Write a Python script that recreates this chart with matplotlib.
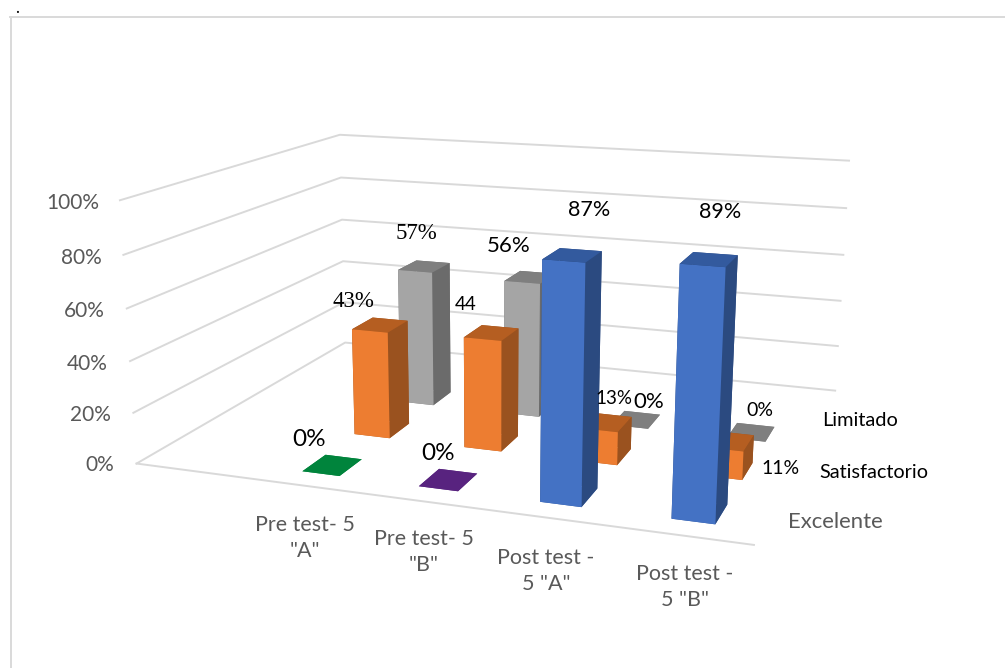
import numpy as np
import matplotlib
matplotlib.use("Agg")
import matplotlib.pyplot as plt
from matplotlib.lines import Line2D
from mpl_toolkits.mplot3d import Axes3D

W, H = 1005, 668

categories = ['Pre test- 5\n"A"', 'Pre test- 5\n"B"', 'Post test -\n5 "A"', 'Post test -\n5 "B"']
series = ["Excelente", "Satisfactorio", "Limitado"]
excelente = [0, 0, 87, 89]
satisfactorio = [43, 44, 13, 11]
limitado = [57, 56, 0, 0]
ticks = [0, 20, 40, 60, 80, 100]

front_colors = ["#4472C4", "#ED7D31", "#A5A5A5"]
top_colors = ["#335A9E", "#B55E21", "#7F7F7F"]
side_colors = ["#2B4A80", "#9A521F", "#6B6B6B"]
flat_colors = {(0, 0): "#00843C", (1, 0): "#58237F"}

BAR_W = 0.26
BAR_D = 0.32
# bars do not fill the floor of the box evenly in the original
cat_pos = [1.20, 2.00, 2.79, 3.60]
depth_pos = [0.38, 1.13, 1.88]


def fit_camera():
    # where the corners of the chart box sit in the picture, (x, depth, z) -> pixel
    left_front = [(137, 463), (133, 413), (130, 361), (127, 309), (123, 255), (120, 200)]
    left_back = [(345, 342), (344, 303), (343, 262), (342, 219), (341, 177), (340, 135)]
    right_back = [(835, 391), (838, 346), (841, 300), (843, 255), (846, 208), (849, 161)]
    rows = []
    for (x, y), pts in [((0, 0), left_front), ((0, 3), left_back), ((4, 3), right_back)]:
        for z, (u, v) in zip(ticks, pts):
            rows.append([x, y, z, 1, 0, 0, 0, 0, -u * x, -u * y, -u * z, -u])
            rows.append([0, 0, 0, 0, x, y, z, 1, -v * x, -v * y, -v * z, -v])
    x, y, z, u, v = 4, 0, 0, 754, 545
    rows.append([x, y, z, 1, 0, 0, 0, 0, -u * x, -u * y, -u * z, -u])
    rows.append([0, 0, 0, 0, x, y, z, 1, -v * x, -v * y, -v * z, -v])
    p = np.linalg.svd(np.array(rows, float))[2][-1].reshape(3, 4)
    if p[2, 3] < 0:
        p = -p
    return p / p[2, 3]


def px(x, y):
    return x / W, 1 - y / H


fig = plt.figure(figsize=(W / 100, H / 100), dpi=100)
# mplot3d forces a square box, so use one as wide as the figure
ax = fig.add_axes([0, (H - W) / 2 / H, 1, W / H], projection="3d")
ax.set_axis_off()
ax.computed_zorder = False
ax.apply_aspect()

cam = fit_camera()
to_data = ax.transData.inverted().get_matrix()
flip = np.array([[1, 0, 0], [0, -1, H], [0, 0, 1]], float)
m2 = to_data @ flip @ cam
M = np.array([m2[0], m2[1], [0, 0, 0, -1], m2[2]])
ax.get_proj = lambda: M

ax.set_xlim(0, 4)
ax.set_ylim(0, 3)
ax.set_zlim(0, 100)

grid = "#D9D9D9"
for t in ticks:
    ax.plot([0, 0, 4], [0, 3, 3], [t, t, t], color=grid, lw=1.4, zorder=1, clip_on=False)
ax.plot([0, 4], [0, 0], [0, 0], color=grid, lw=1.4, zorder=1, clip_on=False)

xs, ys, dz, colors = [], [], [], []
for s, values in enumerate([excelente, satisfactorio, limitado]):
    for c, val in enumerate(values):
        xs.append(cat_pos[c] - BAR_W / 2)
        ys.append(depth_pos[s] - BAR_D / 2)
        dz.append(val)
        top = flat_colors.get((c, s), top_colors[s])
        # bottom, top, -y, +y, -x, +x
        colors += [top, top, front_colors[s], side_colors[s], side_colors[s], side_colors[s]]
bars = ax.bar3d(xs, ys, np.zeros(len(xs)), BAR_W, BAR_D, dz, color=colors, shade=False,
                linewidth=0, zorder=2)

gray = "#595959"
sans = "Lato"
for t, (x, y) in zip(ticks, [(114, 465), (111, 415), (108, 364), (105, 311), (102, 258), (99, 203)]):
    fig.text(*px(x, y), f"{t}%", color=gray, fontsize=15, family=sans, ha="right", va="center")

for label, (x, y) in zip(categories, [(305, 538), (424, 552), (546, 571), (685, 587)]):
    fig.text(*px(x, y), label, color=gray, fontsize=15.5, family=sans, ha="center", va="center",
             linespacing=1.4)

fig.text(*px(788, 522), series[0], color=gray, fontsize=15.9, family=sans, va="center")
fig.text(*px(819, 472), series[1], color="black", fontsize=14.3, family=sans, va="center")
fig.text(*px(822, 420), series[2], color="black", fontsize=14.4, family=sans, va="center")

value_labels = [
    ("0%", 309, 439, 17.5, sans), ("0%", 438, 454, 17.5, sans),
    ("43%", 353, 301, 16.5, "Liberation Serif"), ("57%", 416, 233, 16.5, "Liberation Serif"),
    ("44", 466, 305, 13.5, sans), ("56%", 509, 246, 16, sans),
    ("87%", 589, 210, 15.5, sans), ("89%", 720, 212, 15.5, sans),
    ("13%", 614, 399, 13.5, sans), ("0%", 649, 402, 16, sans),
    ("0%", 760, 411, 14, sans), ("11%", 781, 468, 14, sans),
]
for text, x, y, size, fam in value_labels:
    fig.text(*px(x, y), text, color="black", fontsize=size, family=fam, ha="center", va="center")

# outer frame and the stray dot above it
fig.add_artist(Line2D([10 / W, 1], [1 - 17 / H] * 2, color=grid, lw=1.4))
fig.add_artist(Line2D([11 / W] * 2, [0, 1 - 17 / H], color=grid, lw=1.4))
fig.text(*px(17.5, 8), ".", color="black", fontsize=12, family=sans, ha="center", va="center")

fig.savefig("out.png", dpi=100)
